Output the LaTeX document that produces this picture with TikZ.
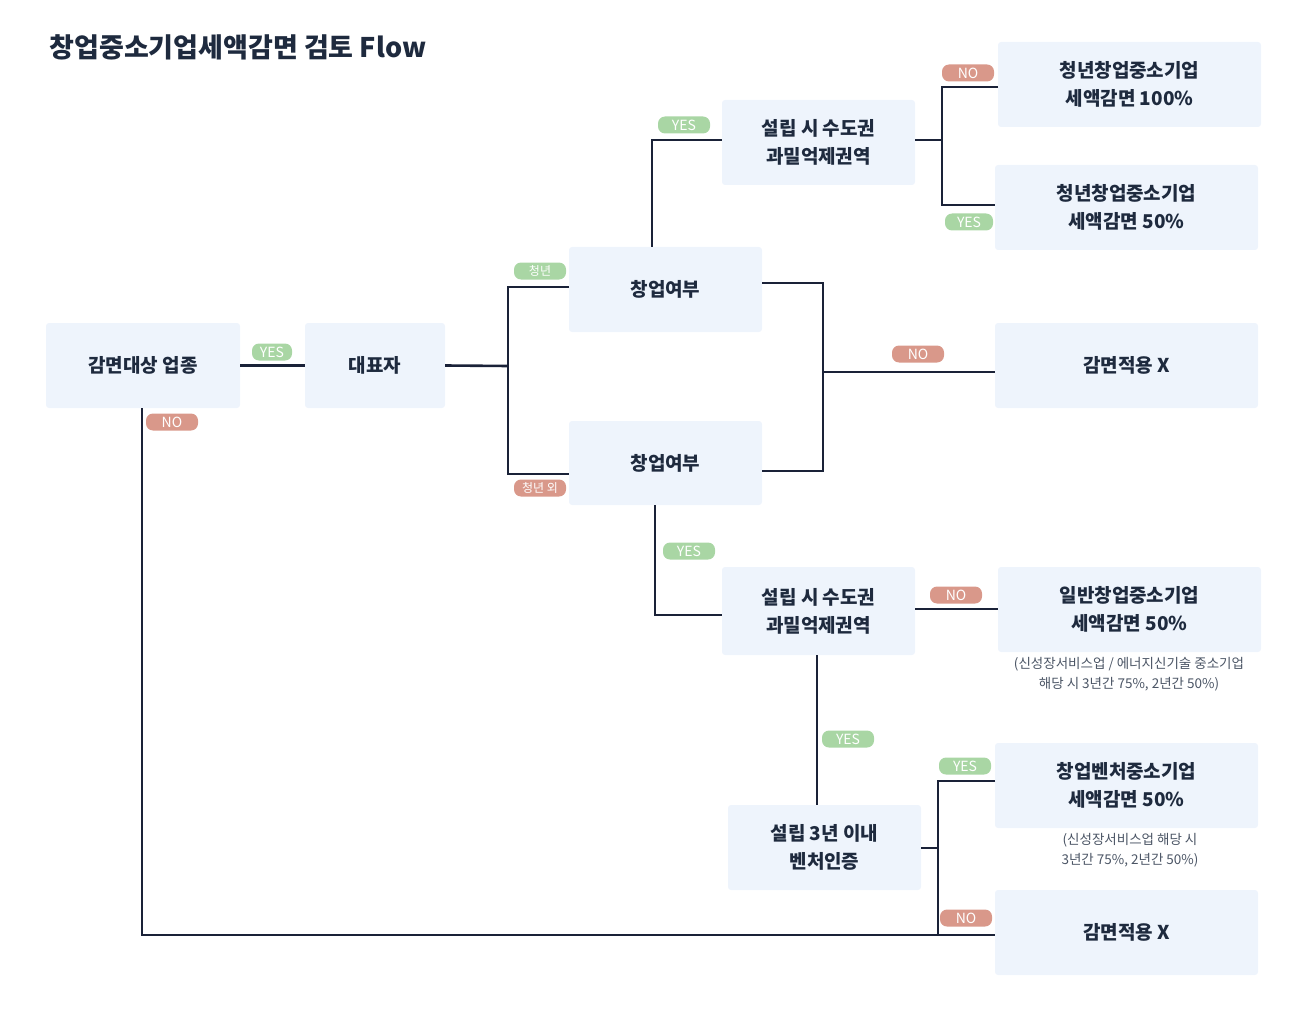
\documentclass[tikz,border=0pt]{standalone}
\usepackage{fontspec}
\setmainfont{Noto Sans CJK KR}
\newfontfamily\kr{Noto Sans CJK KR}
\begin{document}
\begin{tikzpicture}[x=1pt,y=-1pt,
  box/.style={fill=boxc,rounded corners=3pt,align=center,font=\fontsize{19}{28}\selectfont\bfseries,text=txt,inner sep=0pt},
  ln/.style={draw=navy,line width=2.6pt},
  yes/.style={fill=yesc,rounded corners=7pt,text=white,font=\fontsize{14}{14}\selectfont,inner sep=0pt,minimum height=17pt,minimum width=40pt},
  no/.style={fill=noc,rounded corners=7pt,text=white,font=\fontsize{14}{14}\selectfont,inner sep=0pt,minimum height=17pt,minimum width=52pt},
  note/.style={font=\fontsize{13.5}{20}\selectfont,text=txt!80,align=center}]
\definecolor{boxc}{HTML}{EEF4FC}
\definecolor{navy}{HTML}{1A2238}
\definecolor{txt}{HTML}{1E2A3E}
\definecolor{yesc}{HTML}{A9D6A4}
\definecolor{noc}{HTML}{D9988A}
\useasboundingbox (0,0) rectangle (1300,1016);
\node[anchor=west,font=\fontsize{27}{30}\selectfont\bfseries,text=txt] (title) at (46,47) {창업중소기업세액감면 검토 Flow};
\newcommand\bx[6]{\node[box,minimum width=#4-#2,minimum height=#5-#3] (#1) at ({(#2+#4)/2},{(#3+#5)/2}) {#6};}
\bx{a}{46}{323}{240}{408}{감면대상 업종}
\bx{b}{305}{323}{445}{408}{대표자}
\bx{c1}{569}{247}{762}{332}{창업여부}
\bx{c2}{569}{421}{762}{505}{창업여부}
\bx{d1}{722}{100}{915}{185}{설립 시 수도권\\과밀억제권역}
\bx{e1}{998}{42}{1261}{127}{청년창업중소기업\\세액감면 100\%}
\bx{e2}{995}{165}{1258}{250}{청년창업중소기업\\세액감면 50\%}
\bx{x1}{995}{323}{1258}{408}{감면적용 X}
\bx{d2}{722}{567}{915}{655}{설립 시 수도권\\과밀억제권역}
\bx{g1}{998}{567}{1261}{652}{일반창업중소기업\\세액감면 50\%}
\bx{v}{728}{805}{921}{890}{설립 3년 이내\\벤처인증}
\bx{g2}{995}{743}{1258}{828}{창업벤처중소기업\\세액감면 50\%}
\bx{x2}{995}{890}{1258}{975}{감면적용 X}
\node[note] (n1) at (1129,674) {(신성장서비스업 / 에너지신기술 중소기업\\해당 시 3년간 75\%, 2년간 50\%)};
\node[note] (n2) at (1130,850) {(신성장서비스업 해당 시\\3년간 75\%, 2년간 50\%)};
% lines
\draw[ln] (a.east) -- (b.west);
\coordinate (j1) at (508,366);
\draw[ln] (b.east) -- (j1);
\draw[ln] (569,287) -- (508,287) -- (508,474) -- (569,474);
\draw[ln] (652,247) -- (652,140) -- (722,140);
\draw[ln] (915,140) -- (942,140);
\draw[ln] (998,87) -- (942,87) -- (942,205) -- (995,205);
\draw[ln] (762,283) -- (823,283) -- (823,471) -- (762,471);
\draw[ln] (823,372) -- (995,372);
\draw[ln] (655,505) -- (655,615) -- (722,615);
\draw[ln] (915,609) -- (998,609);
\draw[ln] (817,655) -- (817,805);
\draw[ln] (921,848) -- (938,848);
\draw[ln] (995,781) -- (938,781) -- (938,935);
\draw[ln] (142,408) -- (142,935) -- (995,935);
% labels
\node[yes] (l1) at (272,352) {YES};
\node[no] (l2) at (172,422) {NO};
\node[yes,minimum width=52pt,font=\fontsize{12}{12}\selectfont] (l3) at (540,271) {청년};
\node[no,font=\fontsize{12}{12}\selectfont] (l4) at (540,488) {청년 외};
\node[yes,minimum width=52pt] (l5) at (684,125) {YES};
\node[no] (l6) at (968,73) {NO};
\node[yes,minimum width=48pt] (l7) at (969,222) {YES};
\node[no] (l8) at (918,354) {NO};
\node[yes,minimum width=52pt] (l9) at (689,551) {YES};
\node[no] (l10) at (956,595) {NO};
\node[yes,minimum width=52pt] (l11) at (848,739) {YES};
\node[yes,minimum width=52pt] (l12) at (965,766) {YES};
\node[no] (l13) at (966,918) {NO};
\end{tikzpicture}
\end{document}
